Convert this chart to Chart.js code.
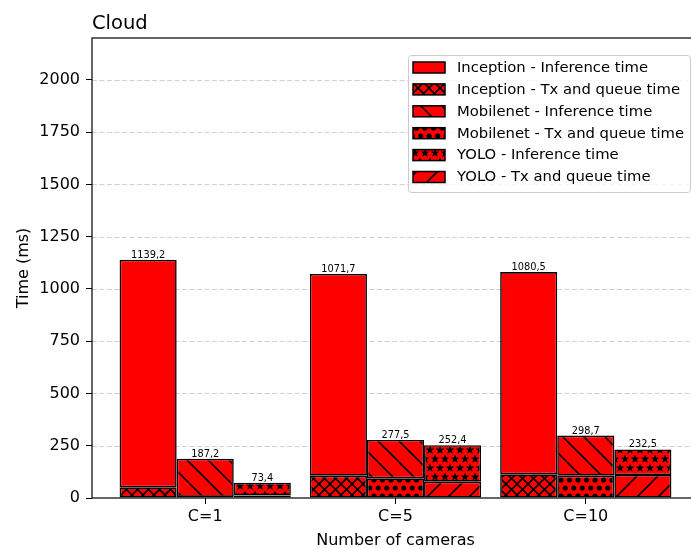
<!DOCTYPE html>
<html>
<head>
<meta charset="utf-8">
<script src="https://cdn.jsdelivr.net/npm/chart.js@4.4.1/dist/chart.umd.min.js"></script>
<style>
    html, body { margin: 0; padding: 0; background: #fff; overflow: hidden; }
    #wrap { width: 700px; height: 548px; }
</style>
</head>
<body>
<div id="wrap"><canvas id="cloudChart" width="700" height="548"></canvas></div>
<script>
// Datos
const categories = ['C=1', 'C=5', 'C=10'];
const yTicks = [0, 250, 500, 750, 1000, 1250, 1500, 1750, 2000];

const inceptionInference = [1088.2, 964.7, 967.5];
const inceptionTx = [51, 107, 113];
const mobilenetInference = [182.2, 183.5, 191.7];
const mobilenetTx = [5, 94, 107];
const yoloInference = [61.4, 174.4, 122.5];
const yoloTx = [12, 78, 110];

// Etiquetas encima de cada barra (total)
const inceptionTotal = ['1139,2', '1071,7', '1080,5'];
const mobilenetTotal = ['187,2', '277,5', '298,7'];
const yoloTotal = ['73,4', '252,4', '232,5'];

const RED = '#ff0000';
const FONT = "'DejaVu Sans', sans-serif";

const canvas = document.getElementById('cloudChart');
const ctx = canvas.getContext('2d');

// Tramas (hatch) estilo matplotlib
function makePattern(w, h, draw) {
    const c = document.createElement('canvas');
    c.width = w;
    c.height = h;
    const g = c.getContext('2d');
    g.fillStyle = RED;
    g.fillRect(0, 0, w, h);
    g.strokeStyle = '#000';
    g.fillStyle = '#000';
    g.lineWidth = 1.6;
    draw(g, w, h);
    return ctx.createPattern(c, 'repeat');
}

const solid = RED;

const crossHatch = makePattern(11, 11, (g, w, h) => {
    for (let k = -1; k <= 1; k++) {
        g.beginPath();
        g.moveTo(k * w, 0); g.lineTo(k * w + w, h);
        g.moveTo(k * w, h); g.lineTo(k * w + w, 0);
        g.stroke();
    }
});

const backHatch = makePattern(21, 21, (g, w, h) => {
    for (let k = -1; k <= 1; k++) {
        g.beginPath();
        g.moveTo(k * w, 0); g.lineTo(k * w + w, h);
        g.stroke();
    }
});

const slashHatch = makePattern(21, 21, (g, w, h) => {
    for (let k = -1; k <= 1; k++) {
        g.beginPath();
        g.moveTo(k * w, h); g.lineTo(k * w + w, 0);
        g.stroke();
    }
});

const dotHatch = makePattern(17, 16, (g, w, h) => {
    const pts = [[0, 0], [w / 2, 0], [w / 4, h / 2], [3 * w / 4, h / 2]];
    pts.forEach(([px, py]) => {
        for (let dx = -1; dx <= 1; dx++) {
            for (let dy = -1; dy <= 1; dy++) {
                g.beginPath();
                g.arc(px + dx * w, py + dy * h, 2.6, 0, Math.PI * 2);
                g.fill();
            }
        }
    });
});

function star(g, cx, cy, ro, ri) {
    g.beginPath();
    for (let i = 0; i < 10; i++) {
        const r = i % 2 === 0 ? ro : ri;
        const a = -Math.PI / 2 + i * Math.PI / 5;
        const x = cx + r * Math.cos(a);
        const y = cy + r * Math.sin(a);
        if (i === 0) g.moveTo(x, y); else g.lineTo(x, y);
    }
    g.closePath();
    g.fill();
}

const starHatch = makePattern(20, 18, (g, w, h) => {
    const pts = [[0, 0], [w / 2, 0], [w / 4, h / 2], [3 * w / 4, h / 2]];
    pts.forEach(([px, py]) => {
        for (let dx = -1; dx <= 1; dx++) {
            for (let dy = -1; dy <= 1; dy++) {
                star(g, px + dx * w, py + dy * h, 4.6, 2.0);
            }
        }
    });
});

const toPoints = arr => arr.map((v, i) => ({ x: i, y: v }));

const datasets = [
    { label: 'Inception - Tx and queue time', data: toPoints(inceptionTx), stack: 'inception', backgroundColor: crossHatch },
    { label: 'Inception - Inference time', data: toPoints(inceptionInference), stack: 'inception', backgroundColor: solid, totals: inceptionTotal },
    { label: 'Mobilenet - Tx and queue time', data: toPoints(mobilenetTx), stack: 'mobilenet', backgroundColor: dotHatch },
    { label: 'Mobilenet - Inference time', data: toPoints(mobilenetInference), stack: 'mobilenet', backgroundColor: backHatch, totals: mobilenetTotal },
    { label: 'YOLO - Tx and queue time', data: toPoints(yoloTx), stack: 'yolo', backgroundColor: slashHatch },
    { label: 'YOLO - Inference time', data: toPoints(yoloInference), stack: 'yolo', backgroundColor: starHatch, totals: yoloTotal }
];
datasets.forEach(d => {
    d.borderColor = '#000';
    d.borderWidth = 1.6;
    d.borderSkipped = false;
    d.categoryPercentage = 0.9;
    d.barPercentage = 1.0;
});

const legendOrder = [1, 0, 3, 2, 5, 4];

// Rejilla discontinua detrás de las barras
const gridPlugin = {
    id: 'dashedGrid',
    beforeDatasetsDraw(chart) {
        const { ctx, chartArea, scales } = chart;
        ctx.save();
        ctx.strokeStyle = '#d0d0d0';
        ctx.lineWidth = 1;
        ctx.setLineDash([5, 2.5]);
        yTicks.forEach(v => {
            if (v === 0) return;
            const y = Math.round(scales.y.getPixelForValue(v)) + 0.5;
            ctx.beginPath();
            ctx.moveTo(chartArea.left, y);
            ctx.lineTo(chartArea.right, y);
            ctx.stroke();
        });
        ctx.restore();
    }
};

// Marco, etiquetas de valores, leyenda y título
const decorPlugin = {
    id: 'decor',
    afterDatasetsDraw(chart) {
        const { ctx, chartArea } = chart;
        ctx.save();
        ctx.strokeStyle = '#000';
        ctx.lineWidth = 1.2;
        ctx.strokeRect(chartArea.left, chartArea.top, chartArea.right - chartArea.left, chartArea.bottom - chartArea.top);

        ctx.fillStyle = '#000';
        ctx.font = '9.8px ' + FONT;
        ctx.textAlign = 'center';
        ctx.textBaseline = 'alphabetic';
        chart.data.datasets.forEach((ds, idx) => {
            if (!ds.totals) return;
            const meta = chart.getDatasetMeta(idx);
            meta.data.forEach((el, i) => {
                ctx.fillText(ds.totals[i], el.x, el.y - 2);
            });
        });
        ctx.restore();
    },
    afterDraw(chart) {
        const { ctx } = chart;
        ctx.save();
        // Leyenda
        ctx.beginPath();
        ctx.roundRect(408.5, 55.5, 282, 137, 3);
        ctx.fillStyle = 'rgba(255,255,255,0.8)';
        ctx.fill();
        ctx.strokeStyle = '#cccccc';
        ctx.lineWidth = 1;
        ctx.stroke();

        ctx.font = '14.8px ' + FONT;
        ctx.textAlign = 'left';
        ctx.textBaseline = 'middle';
        legendOrder.forEach((idx, row) => {
            const ds = chart.data.datasets[idx];
            const cy = 67.5 + row * 21.9;
            ctx.fillStyle = ds.backgroundColor;
            ctx.fillRect(413, cy - 5.5, 32, 11);
            ctx.strokeStyle = '#000';
            ctx.lineWidth = 1.5;
            ctx.strokeRect(413, cy - 5.5, 32, 11);
            ctx.fillStyle = '#000';
            ctx.fillText(ds.label, 457, cy + 0.5);
        });

        // Título
        ctx.font = '19.5px ' + FONT;
        ctx.textBaseline = 'alphabetic';
        ctx.fillText('Cloud', 92, 29);
        ctx.restore();
    }
};

Chart.defaults.font.family = FONT;
Chart.defaults.color = '#000';

new Chart(ctx, {
    type: 'bar',
    data: { datasets: datasets },
    options: {
        responsive: false,
        animation: false,
        devicePixelRatio: 1,
        layout: { padding: { top: 38, right: 1, bottom: 0, left: 0 } },
        plugins: {
            legend: { display: false },
            tooltip: { enabled: false },
            title: { display: false }
        },
        scales: {
            x: {
                type: 'linear',
                min: -0.595,
                max: 2.595,
                stacked: true,
                offset: false,
                grid: { offset: false, drawOnChartArea: false, tickLength: 6, tickColor: '#000', lineWidth: 1 },
                border: { display: false },
                afterBuildTicks: s => { s.ticks = categories.map((c, i) => ({ value: i })); },
                afterFit: s => { s.height = 50; },
                ticks: {
                    callback: v => categories[v],
                    font: { size: 16 },
                    color: '#000',
                    padding: 3,
                    autoSkip: false,
                    maxRotation: 0
                },
                title: {
                    display: true,
                    text: 'Number of cameras',
                    font: { size: 16, lineHeight: 0.875 },
                    color: '#000',
                    padding: { top: 0, bottom: 0 }
                }
            },
            y: {
                stacked: true,
                min: 0,
                max: 2200,
                grid: { drawOnChartArea: false, tickLength: 6, tickColor: '#000', lineWidth: 1 },
                border: { display: false },
                afterBuildTicks: s => { s.ticks = yTicks.map(v => ({ value: v })); },
                afterFit: s => { s.width = 92; },
                ticks: {
                    callback: v => String(v),
                    font: { size: 16 },
                    color: '#000',
                    padding: 6
                },
                title: {
                    display: true,
                    text: 'Time (ms)',
                    font: { size: 16 },
                    color: '#000',
                    padding: { top: 14, bottom: 0 }
                }
            }
        }
    },
    plugins: [gridPlugin, decorPlugin]
});
</script>
</body>
</html>
